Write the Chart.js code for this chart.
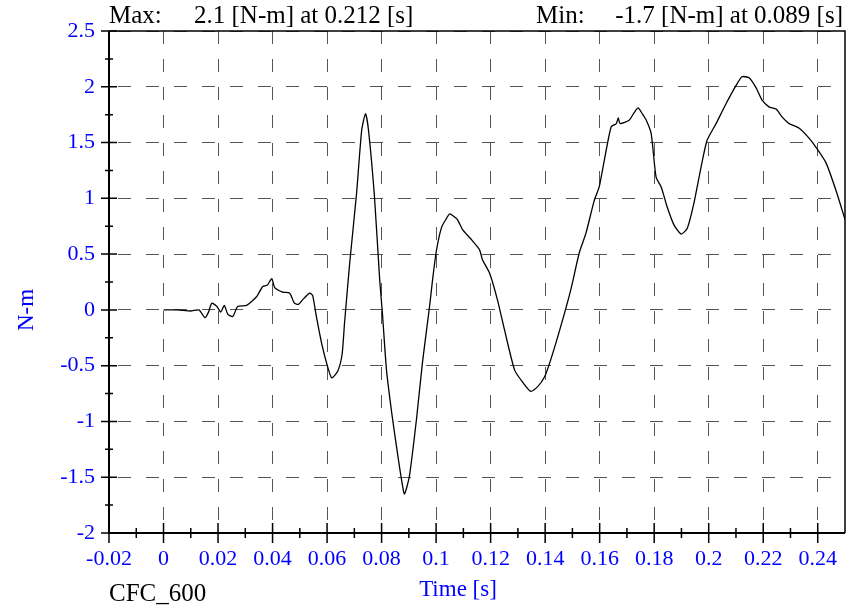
<!DOCTYPE html>
<html>
<head>
<meta charset="utf-8">
<script src="https://cdn.jsdelivr.net/npm/chart.js@4.4.1/dist/chart.umd.min.js"></script>
<style>
  html, body { margin: 0; padding: 0; background: #fff; }
  #wrap { width: 858px; height: 609px; }
</style>
</head>
<body>
<div id="wrap"><canvas id="torqueChart" width="858" height="609"></canvas></div>
<script>
// time [s]
const times = [
    0, 0.005, 0.01, 0.013, 0.0152, 0.0165, 0.0177, 0.0196, 0.021, 0.0223,
    0.0236, 0.0254, 0.0272, 0.0305, 0.0342, 0.0364, 0.038, 0.0397, 0.0408, 0.0437,
    0.0463, 0.048, 0.0495, 0.051, 0.0536, 0.0547, 0.056, 0.058, 0.0602, 0.0617,
    0.0639, 0.0655, 0.0664, 0.0683, 0.0708, 0.0727, 0.0741, 0.0752, 0.0774, 0.0793,
    0.0803, 0.0818, 0.0837, 0.0855, 0.0873, 0.0884, 0.0902, 0.0928, 0.095, 0.0976,
    0.0987, 0.1001, 0.102, 0.1038, 0.1049, 0.1058, 0.1078, 0.1097, 0.1126, 0.1159,
    0.117, 0.1196, 0.1225, 0.1251, 0.1288, 0.1318, 0.1347, 0.1372, 0.1398, 0.142,
    0.1457, 0.1494, 0.1525, 0.155, 0.158, 0.1598, 0.1617, 0.1642, 0.1661, 0.1668,
    0.1675, 0.1708, 0.1727, 0.1741, 0.1756, 0.1771, 0.1789, 0.1807, 0.1826, 0.1848,
    0.1873, 0.1899, 0.1921, 0.1946, 0.1972, 0.1994, 0.2027, 0.2064, 0.21, 0.2122,
    0.2148, 0.2174, 0.2196, 0.2221, 0.2247, 0.2269, 0.2295, 0.2331, 0.2368, 0.2393,
    0.243, 0.2467, 0.25
];
// moment [N-m]
const torque = [
    0, 0.0, -0.01, 0.0, -0.07, -0.02, 0.06, 0.03, -0.02, 0.04,
    -0.04, -0.06, 0.03, 0.04, 0.12, 0.21, 0.22, 0.28, 0.2, 0.16,
    0.15, 0.06, 0.05, 0.09, 0.15, 0.13, -0.05, -0.3, -0.51, -0.61,
    -0.55, -0.4, -0.12, 0.42, 1.04, 1.61, 1.76, 1.61, 1.01, 0.27,
    -0.03, -0.54, -0.92, -1.23, -1.52, -1.65, -1.49, -0.98, -0.47, 0.03,
    0.27, 0.53, 0.74, 0.82, 0.86, 0.85, 0.81, 0.72, 0.64, 0.54,
    0.45, 0.33, 0.09, -0.18, -0.54, -0.65, -0.73, -0.69, -0.6, -0.45,
    -0.15, 0.18, 0.51, 0.69, 0.98, 1.1, 1.34, 1.64, 1.67, 1.72,
    1.67, 1.7, 1.77, 1.81, 1.76, 1.7, 1.58, 1.19, 1.1, 0.92,
    0.76, 0.68, 0.73, 0.96, 1.28, 1.52, 1.67, 1.85, 2.01, 2.09,
    2.08, 1.99, 1.88, 1.82, 1.8, 1.73, 1.67, 1.63, 1.54, 1.46,
    1.32, 1.07, 0.81
];
const xTicks = [-0.02, 0, 0.02, 0.04, 0.06, 0.08, 0.1, 0.12, 0.14, 0.16, 0.18, 0.2, 0.22, 0.24];
const yTicks = [-2, -1.5, -1, -0.5, 0, 0.5, 1, 1.5, 2, 2.5];
const xMinor = [-0.01, 0.01, 0.03, 0.05, 0.07, 0.09, 0.11, 0.13, 0.15, 0.17, 0.19, 0.21, 0.23];
const yMinor = [-1.75, -1.25, -0.75, -0.25, 0.25, 0.75, 1.25, 1.75, 2.25];

const SERIF = '"Liberation Serif", "Times New Roman", serif';

// ejes, marcas y textos
const decor = {
    id: 'decor',
    afterDraw(chart) {
        const ctx = chart.ctx;
        const a = chart.chartArea;
        const xs = chart.scales.x, ys = chart.scales.y;
        ctx.save();
        ctx.strokeStyle = '#000';
        ctx.setLineDash([]);
        // marco
        ctx.lineWidth = 1.5;
        ctx.beginPath();
        ctx.moveTo(a.left, a.top); ctx.lineTo(a.right, a.top); ctx.lineTo(a.right, a.bottom);
        ctx.stroke();
        ctx.lineWidth = 2;
        ctx.beginPath();
        ctx.moveTo(a.left, a.top); ctx.lineTo(a.left, a.bottom); ctx.lineTo(a.right, a.bottom);
        ctx.stroke();
        // marcas
        ctx.lineWidth = 1.5;
        ctx.beginPath();
        xTicks.forEach(v => { const p = xs.getPixelForValue(v); ctx.moveTo(p, a.bottom - 10); ctx.lineTo(p, a.bottom + 10); });
        xMinor.forEach(v => { const p = xs.getPixelForValue(v); ctx.moveTo(p, a.bottom - 5); ctx.lineTo(p, a.bottom + 5); });
        yTicks.forEach(v => { const p = ys.getPixelForValue(v); ctx.moveTo(a.left - 8, p); ctx.lineTo(a.left + 8, p); });
        yMinor.forEach(v => { const p = ys.getPixelForValue(v); ctx.moveTo(a.left - 4, p); ctx.lineTo(a.left + 4, p); });
        ctx.stroke();
        // textos
        ctx.font = '25px ' + SERIF;
        ctx.fillStyle = '#000';
        ctx.textBaseline = 'alphabetic';
        ctx.textAlign = 'left';
        ctx.fillText('Max:', 109, 23);
        ctx.fillText('2.1 [N-m] at 0.212 [s]', 194, 23);
        ctx.fillText('Min:', 536, 23);
        ctx.textAlign = 'right';
        ctx.fillText('-1.7 [N-m] at 0.089 [s]', 843, 23);
        ctx.textAlign = 'left';
        ctx.fillText('CFC_600', 109, 601);
        ctx.fillStyle = '#0000ff';
        ctx.font = '23px ' + SERIF;
        ctx.textAlign = 'center';
        ctx.fillText('Time [s]', 458, 596);
        ctx.translate(26, 310);
        ctx.rotate(-Math.PI / 2);
        ctx.fillText('N-m', 0, 7);
        ctx.restore();
    }
};

const torqueChart = new Chart(document.getElementById('torqueChart'), {
    type: 'scatter',
    data: {
        datasets: [{
            data: times.map((t, i) => ({ x: t, y: torque[i] })),
            showLine: true,
            borderColor: '#000',
            borderWidth: 1.3,
            pointRadius: 0,
            tension: 0.2,
            clip: 0
        }]
    },
    options: {
        responsive: false,
        animation: false,
        devicePixelRatio: 1,
        layout: { padding: { top: 31, right: 13, left: 0, bottom: 0 } },
        plugins: { legend: { display: false }, tooltip: { enabled: false } },
        scales: {
            x: {
                type: 'linear',
                min: -0.02,
                max: 0.25,
                afterBuildTicks: s => { s.ticks = xTicks.map(v => ({ value: v })); },
                afterFit: s => { s.height = 76; },
                grid: { color: '#555', lineWidth: 1, drawTicks: false },
                border: { display: false, dash: [13, 15], dashOffset: 0 },
                ticks: {
                    color: '#0000ff',
                    padding: 13,
                    maxRotation: 0,
                    autoSkip: false,
                    font: { family: SERIF, size: 22 },
                    callback: v => String(Math.round(v * 100) / 100)
                }
            },
            y: {
                type: 'linear',
                min: -2,
                max: 2.5,
                afterBuildTicks: s => { s.ticks = yTicks.map(v => ({ value: v })); },
                afterFit: s => { s.width = 109; },
                grid: { color: '#555', lineWidth: 1, drawTicks: false },
                border: { display: false, dash: [13, 15], dashOffset: 19 },
                ticks: {
                    color: '#0000ff',
                    padding: 14,
                    autoSkip: false,
                    font: { family: SERIF, size: 22 },
                    callback: v => String(v)
                }
            }
        }
    },
    plugins: [decor]
});
</script>
</body>
</html>
